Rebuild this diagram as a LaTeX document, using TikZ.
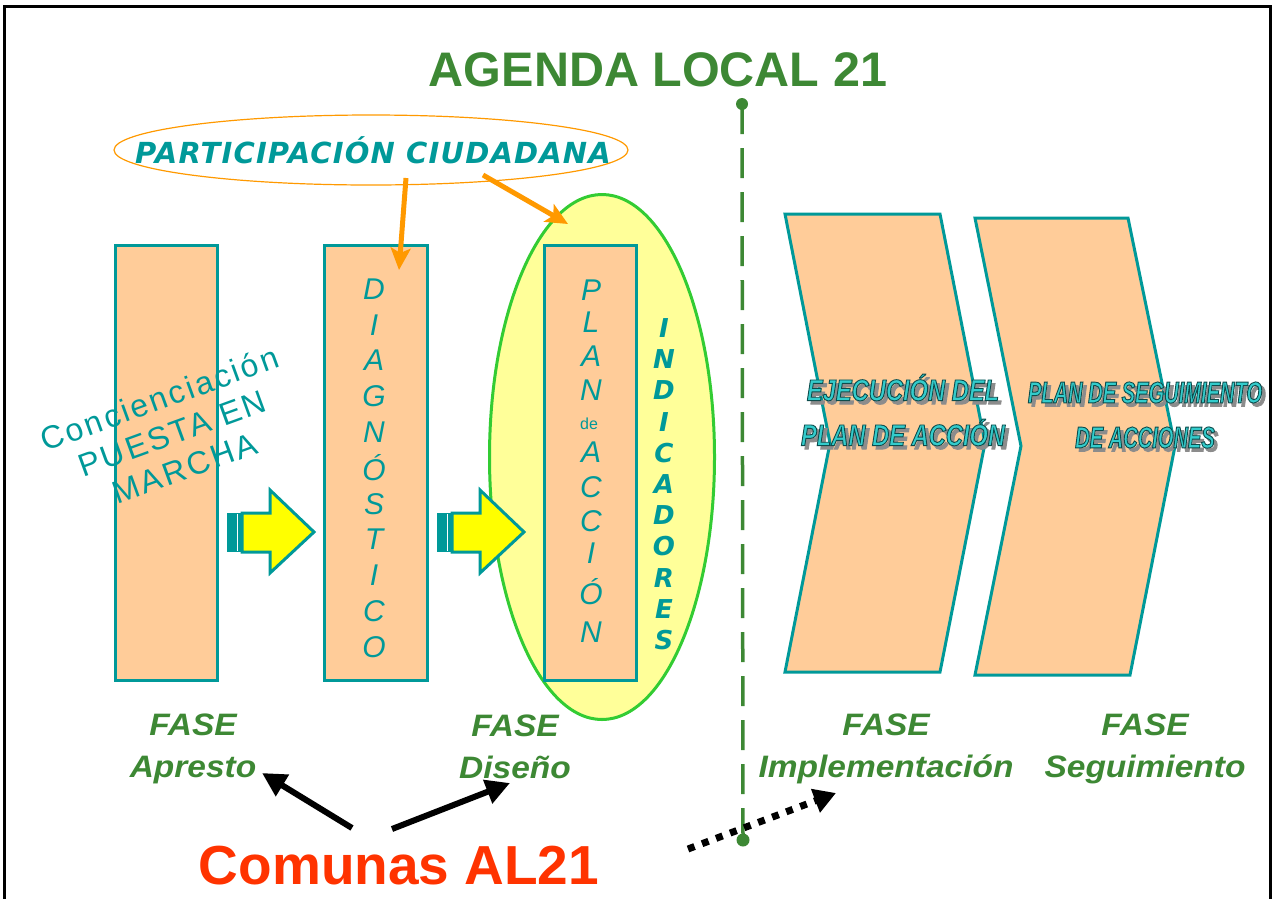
\documentclass[tikz,border=0pt]{standalone}
\usepackage{fontspec}
\setmainfont{Liberation Sans}
\newfontfamily\comicf[LetterSpace=4]{DejaVu Sans}
\newfontfamily\waA[FakeStretch=0.79,FakeBold=3]{Liberation Sans}
\newfontfamily\waB[FakeStretch=0.67,FakeBold=3]{Liberation Sans}
\newfontfamily\faseF[FakeStretch=1.08]{Liberation Sans}
\newfontfamily\spacedF[LetterSpace=8]{Liberation Sans}
\usetikzlibrary{arrows.meta,shapes.geometric}
\definecolor{tealc}{HTML}{009999}
\definecolor{peach}{HTML}{FFCC99}
\definecolor{gtitle}{HTML}{3D8834}
\definecolor{lyellow}{HTML}{FFFF99}
\definecolor{lgreen}{HTML}{33CC33}
\definecolor{orng}{HTML}{FF9900}
\definecolor{redc}{HTML}{FF3300}
\definecolor{wafill}{HTML}{33CCCC}
\definecolor{wadark}{HTML}{0D4D4D}
\definecolor{wagray}{HTML}{8C8C8C}
\definecolor{yel}{HTML}{FFFF00}
\newcommand\wordart[5]{% name, x, y, font, content
  \node[wa,font=#4,text=wagray] (#1s) at (#2+3.5,#3+3.5) {#5};
  \node[wa,font=#4,text=wafill] (#1) at (#2,#3) {\special{pdf:literal direct 0.05 0.3 0.3 RG}#5};
}
\tikzset{
  box/.style={draw=tealc,line width=3pt,fill=peach,inner sep=0pt},
  vletter/.style={text=tealc,font=\itshape\fontsize{30}{30}\selectfont,inner sep=0pt},
  indlet/.style={text=tealc,font=\comicf\bfseries\itshape\fontsize{26}{26}\selectfont,inner sep=0pt},
  wa/.style={align=center,inner sep=0pt},
  fase/.style={text=gtitle,align=center,inner sep=0pt,font=\faseF\bfseries\itshape\fontsize{31}{42}\selectfont},
  chev/.style={draw=tealc,line width=3pt,fill=peach,line join=miter},
  yarrow/.style={draw=tealc,line width=3pt,fill=yel,line join=miter},
  oarrow/.style={draw=orng,line width=5pt,-{Stealth[length=22pt,width=20pt,inset=5pt]}},
  barrow/.style={draw=black,line width=6pt,-{Triangle[length=24pt,width=24pt]}},
}
\begin{document}
\begin{tikzpicture}[x=1pt,y=-1pt]
\useasboundingbox (0,0) rectangle (1274,898);
% frame
\draw[line width=3pt] (4,905) -- (4,6) -- (1270,6) -- (1270,905);
% title
\node[text=gtitle,font=\bfseries\fontsize{48.5}{50}\selectfont,inner sep=0pt] (title) at (658,70) {AGENDA LOCAL 21};
% dashed divider
\coordinate (dtop) at (742,104);
\coordinate (dbot) at (743,840);
\draw[gtitle,line width=3.5pt,dash pattern=on 30pt off 14pt] (dtop) -- (dbot);
\fill[gtitle] (dtop) circle (6pt);
\fill[gtitle] (dbot) circle (6.5pt);
% participation ellipse
\node[draw=orng,line width=1.2pt,ellipse,minimum width=514pt,minimum height=70pt,inner sep=0pt] (part) at (371,150) {};
\node[text=tealc,font=\comicf\bfseries\itshape\fontsize{29}{29}\selectfont,inner sep=0pt] (parttxt) at (373,150) {PARTICIPACIÓN CIUDADANA};
% yellow ellipse
\node[draw=lgreen,line width=3pt,fill=lyellow,ellipse,minimum width=225pt,minimum height=525pt,inner sep=0pt] (yell) at (602,457) {};
% boxes
\node[box,minimum width=102pt,minimum height=435pt] (b1) at (166.5,463) {};
\node[box,minimum width=103pt,minimum height=435pt] (b2) at (376,463) {};
\node[box,minimum width=92pt,minimum height=435pt] (b3) at (590.5,463) {};
% Diagnostico letters
\foreach \l [count=\i from 0] in {D,I,A,G,N,Ó,S,T,I,C,O}
  \node[vletter] (dg\i) at (374,289+35.8*\i) {\l};
% Plan de accion letters
\foreach \l/\yy [count=\i] in {P/290,L/322,A/356,N/390,A/452,C/487,C/521,I/553,Ó/592,N/632}
  \node[vletter] (pa\i) at (591,\yy) {\l};
\node[text=tealc,font=\fontsize{16}{16}\selectfont,inner sep=0pt] (pade) at (589,424) {de};
% Indicadores
\foreach \l [count=\i from 0] in {I,N,D,I,C,A,D,O,R,E,S}
  \node[indlet] (in\i) at (664,328+31.2*\i) {\l};
% concienciacion
\node[text=tealc,rotate=20,align=center,inner sep=0pt,font=\spacedF\fontsize{32}{37}\selectfont] (conc) at (172,433) {Concienciación\\PUESTA EN\\MARCHA};
% yellow arrows
\foreach \s [count=\k] in {-210,0} {
  \begin{scope}[xshift=\s pt]
  \fill[tealc] (437,513) rectangle (452,552);
  \draw[white,line width=1pt] (447.5,514) -- (447.5,551);
  \draw[yarrow] (452,513) -- (480,513) -- (480,490) -- (524,532) -- (480,573) -- (480,552) -- (452,552) -- cycle;
  \end{scope}
}
% orange arrows
\coordinate (o1s) at (406,178);
\coordinate (o1e) at (399,270);
\coordinate (o2s) at (483,175);
\coordinate (o2e) at (568,224);
\draw[oarrow] (o1s) -- (o1e);
\draw[oarrow] (o2s) -- (o2e);
% chevrons
\draw[chev] (785,214) -- (940,214) -- (985,443) -- (940,672) -- (785,672) -- (830,443) -- cycle;
\draw[chev] (975,218) -- (1128,218) -- (1175,446) -- (1130,675) -- (975,675) -- (1021,446) -- cycle;
\wordart{wa1}{903}{410}{\waA\bfseries\itshape\fontsize{30}{45}\selectfont}{EJECUCIÓN DEL\\PLAN DE ACCIÓN}
\wordart{wa2}{1145}{415}{\waB\bfseries\itshape\fontsize{30}{45}\selectfont}{PLAN DE SEGUIMIENTO\\DE ACCIONES}
% FASE labels
\node[fase] (fa1) at (193,749) {FASE\\Apresto};
\node[fase] (fa2) at (515,747) {FASE\\Diseño};
\node[fase] (fa3) at (886,749) {FASE\\Implementación};
\node[fase] (fa4) at (1145,749) {FASE\\Seguimiento};
% Comunas
\node[text=redc,font=\bfseries\fontsize{55}{60}\selectfont,inner sep=0pt] (com) at (399,866) {Comunas AL21};
\coordinate (c1) at (352,828);
\coordinate (c2) at (392,829);
\coordinate (c3) at (688,849);
\coordinate (t1) at (262,773);
\coordinate (t2) at (510,783);
\coordinate (t3) at (836,793);
\draw[barrow] (c1) -- (t1);
\draw[barrow] (c2) -- (t2);
\draw[line width=7pt,dash pattern=on 7pt off 8pt,-{Triangle[length=22pt,width=24pt]}] (c3) -- (t3);
\end{tikzpicture}
\end{document}
